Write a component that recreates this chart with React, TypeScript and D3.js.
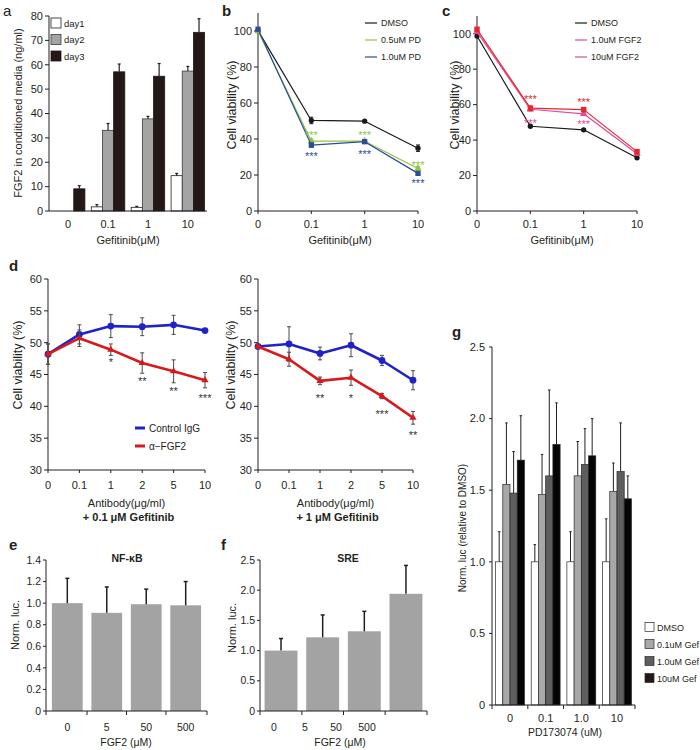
import React from 'react';
import * as d3 from 'd3';

const FONT = '"Liberation Sans", Arial, Helvetica, sans-serif';
const INK = '#231f20';

/* ---------------- panel a data ---------------- */
const aCategories = ['0', '0.1', '1', '10'];
const aDays = ['day1', 'day2', 'day3'];
const aDay1 = [0, 1.7, 1.5, 14.5];
const aDay1Err = [0, 0.9, 0.4, 0.9];
const aDay2 = [0, 33.1, 37.8, 57.4];
const aDay2Err = [0, 2.8, 1.0, 1.9];
const aDay3 = [9.1, 57.1, 55.3, 73.3];
const aDay3Err = [1.3, 3.2, 5.2, 5.6];
const aYTicks = [0, 10, 20, 30, 40, 50, 60, 70, 80];

/* ---------------- panels b, c data ---------------- */
const gefCategories = ['0', '0.1', '1', '10'];
const viabilityTicks = [0, 20, 40, 60, 80, 100];

const bNames = ['DMSO', '0.5uM PD', '1.0uM PD'];
const bDMSO = [100.2, 50.3, 49.9, 34.9];
const bDMSOErr = [0.5, 1.8, 0.6, 1.8];
const bPD05 = [100.0, 38.8, 38.8, 23.6];
const bPD05Err = [0.5, 1.2, 0.8, 1.0];
const bPD10 = [101.0, 36.6, 38.5, 20.9];
const bPD10Err = [0.8, 1.2, 0.8, 0.8];
const bStarsPD05: [string, number][] = [['0.1', 44.0], ['1', 44.0], ['10', 27.4]];
const bStarsPD10: [string, number][] = [['0.1', 32.4], ['1', 33.5], ['10', 17.2]];

const cNames = ['DMSO', '1.0uM FGF2', '10uM FGF2'];
const cDMSO = [98.7, 47.8, 45.8, 30.0];
const cDMSOErr = [0.5, 0.6, 0.6, 0.8];
const cFGF1 = [101.0, 57.4, 54.8, 32.3];
const cFGF1Err = [0.8, 1.0, 1.0, 1.0];
const cFGF10 = [102.5, 58.0, 57.2, 33.5];
const cFGF10Err = [1.0, 1.2, 1.0, 1.2];
const cStarsFGF10: [string, number][] = [['0.1', 64.9], ['1', 63.2]];
const cStarsFGF1: [string, number][] = [['0.1', 51.3], ['1', 50.4]];

/* ---------------- panel d data ---------------- */
const dCategories = ['0', '0.1', '1', '2', '5', '10'];
const dYTicks = [30, 35, 40, 45, 50, 55, 60];
const dNames = ['Control IgG', 'α−FGF2'];
const dLeftIgG = [48.2, 51.3, 52.6, 52.5, 52.8, 51.9];
const dLeftIgGErr = [1.6, 1.5, 1.8, 1.4, 1.5, 0.3];
const dLeftAb = [48.2, 50.7, 48.9, 46.8, 45.5, 44.1];
const dLeftAbErr = [1.6, 1.3, 0.9, 1.6, 1.8, 1.2];
const dLeftStars: [string, string, number][] = [['1', '*', 47.4], ['2', '**', 44.4], ['5', '**', 42.9], ['10', '***', 41.8]];
const dRightIgG = [49.4, 49.8, 48.3, 49.6, 47.2, 44.1];
const dRightIgGErr = [0.3, 2.7, 1.0, 1.8, 0.8, 1.5];
const dRightAb = [49.4, 47.4, 44.0, 44.5, 41.6, 38.2];
const dRightAbErr = [0.3, 1.1, 0.6, 1.2, 0.4, 1.0];
const dRightStars: [string, string, number][] = [['1', '**', 41.8], ['2', '*', 41.8], ['5', '***', 39.3], ['10', '**', 35.9]];

/* ---------------- panels e, f data ---------------- */
const fgfCategories = ['0', '5', '50', '500'];
const eValues = [1.0, 0.91, 0.99, 0.98];
const eErr = [0.23, 0.24, 0.14, 0.22];
const eYTicks = [0, 0.2, 0.4, 0.6, 0.8, 1.0, 1.2, 1.4];
const fValues = [1.0, 1.22, 1.32, 1.94];
const fErr = [0.2, 0.37, 0.33, 0.47];
const fYTicks = [0, 0.5, 1.0, 1.5, 2.0, 2.5];

/* ---------------- panel g data ---------------- */
const gCategories = ['0', '0.1', '1.0', '10'];
const gNames = ['DMSO', '0.1uM Gef', '1.0uM Gef', '10uM Gef'];
const gDMSO = [1.0, 1.0, 1.0, 1.0];
const gDMSOErr = [0.21, 0.12, 0.21, 0.3];
const gGef01 = [1.54, 1.47, 1.6, 1.49];
const gGef01Err = [0.43, 0.28, 0.24, 0.2];
const gGef1 = [1.48, 1.6, 1.68, 1.63];
const gGef1Err = [0.29, 0.6, 0.25, 0.34];
const gGef10 = [1.71, 1.82, 1.74, 1.44];
const gGef10Err = [0.31, 0.29, 0.26, 0.16];
const gYTicks = [0, 0.5, 1.0, 1.5, 2.0, 2.5];

/* ---------------- helpers ---------------- */
const fmt1 = (t: number) => (t === 0 ? '0' : t.toFixed(1));
const symCircle = (s: number) => d3.symbol().type(d3.symbolCircle).size(s)() as string;
const symTriangle = (s: number) => d3.symbol().type(d3.symbolTriangle).size(s)() as string;
const symSquare = (s: number) => d3.symbol().type(d3.symbolSquare).size(s)() as string;

function YAxis({ scale, ticks, x, top, fmt, tick = 4, gap = 2, fs = 11 }: any) {
  const y0 = scale.range()[0];
  return (
    <g>
      <line x1={x} x2={x} y1={y0} y2={top} stroke={INK} strokeWidth={1} />
      {ticks.map((t: number) => (
        <g key={t}>
          <line x1={x - tick} x2={x} y1={scale(t)} y2={scale(t)} stroke={INK} />
          <text x={x - tick - gap} y={scale(t) + fs * 0.35} textAnchor="end" fontSize={fs} fill={INK}>
            {fmt ? fmt(t) : String(t)}
          </text>
        </g>
      ))}
    </g>
  );
}

function XAxisPoint({ scale, y, labelY, fs = 11, tick = 3 }: any) {
  const [x0, x1] = scale.range();
  return (
    <g>
      <line x1={x0} x2={x1} y1={y} y2={y} stroke={INK} />
      {scale.domain().map((c: string) => (
        <g key={c}>
          <line x1={scale(c)} x2={scale(c)} y1={y} y2={y + tick} stroke={INK} />
          <text x={scale(c)} y={labelY} textAnchor="middle" fontSize={fs} fill={INK}>{c}</text>
        </g>
      ))}
    </g>
  );
}

function ErrorBar({ x, y0, y1, cap = 4, color = INK, w = 1, lower = true }: any) {
  return (
    <g stroke={color} strokeWidth={w}>
      <line x1={x} x2={x} y1={y0} y2={y1} />
      <line x1={x - cap / 2} x2={x + cap / 2} y1={y1} y2={y1} />
      {lower ? <line x1={x - cap / 2} x2={x + cap / 2} y1={y0} y2={y0} /> : null}
    </g>
  );
}

function Series({ x, y, cats, values, errs, color, marker, msize = 30, width = 1.2, errColor, cap = 4 }: any) {
  const line = d3.line<number>().x((_, i) => x(cats[i])).y((v) => y(v));
  return (
    <g>
      {values.map((v: number, i: number) =>
        errs && errs[i] > 0 ? (
          <ErrorBar key={'e' + i} x={x(cats[i])} y0={y(v - errs[i])} y1={y(v + errs[i])} color={errColor || color} cap={cap} />
        ) : null
      )}
      <path d={line(values) as string} fill="none" stroke={color} strokeWidth={width} strokeLinejoin="round" />
      {values.map((v: number, i: number) => (
        <path key={i} d={marker(msize)} transform={`translate(${x(cats[i])},${y(v)})`} fill={color} />
      ))}
    </g>
  );
}

function Stars({ x, y, items, color, fs = 11 }: any) {
  return (
    <g>
      {items.map((it: any, i: number) => {
        const [cat, label, v] = it.length === 3 ? it : [it[0], '***', it[1]];
        return (
          <text key={i} x={x(cat)} y={y(v) + fs * 0.62} textAnchor="middle" fontSize={fs} fill={color}>
            {label}
          </text>
        );
      })}
    </g>
  );
}

function LineLegend({ x, y0, dy, names, colors, len = 12, fs = 9, width = 1.2 }: any) {
  return (
    <g>
      {names.map((n: string, i: number) => (
        <g key={n}>
          <line x1={x} x2={x + len} y1={y0 + i * dy} y2={y0 + i * dy} stroke={colors[i]} strokeWidth={width} />
          <text x={x + len + 4} y={y0 + i * dy + fs * 0.35} fontSize={fs} fill={INK}>{n}</text>
        </g>
      ))}
    </g>
  );
}

function VLabel({ x, y, text, fs = 11 }: any) {
  return (
    <text transform={`translate(${x},${y}) rotate(-90)`} textAnchor="middle" fontSize={fs} fill={INK} dy="0.35em">
      {text}
    </text>
  );
}

function Letter({ x, y, t, bold = true }: any) {
  return (
    <text x={x} y={y} fontSize={15} fontWeight={bold ? 'bold' : 'normal'} fill={INK}>
      {t}
    </text>
  );
}

/* ---------------- panels ---------------- */
function PanelA() {
  const x = d3.scaleBand().domain(aCategories).range([49, 207]).paddingInner(0.16).paddingOuter(0.06);
  const xi = d3.scaleBand().domain(aDays).range([0, x.bandwidth()]);
  const y = d3.scaleLinear().domain([0, 80]).range([211, 16]);
  const vals = [aDay1, aDay2, aDay3];
  const errs = [aDay1Err, aDay2Err, aDay3Err];
  const fills = ['#ffffff', '#a4a4a4', '#231815'];
  const strokes = [INK, '#3a3a3a', '#231815'];
  return (
    <g>
      <Letter x={3} y={16} t="a" bold={false} />
      {aDays.map((d, k) =>
        aCategories.map((c, i) => {
          const v = vals[k][i];
          if (v <= 0) return null;
          const bx = (x(c) as number) + (xi(d) as number);
          const cx = bx + xi.bandwidth() / 2;
          return (
            <g key={d + c}>
              <rect x={bx} y={y(v)} width={xi.bandwidth()} height={y(0) - y(v)} fill={fills[k]} stroke={strokes[k]} strokeWidth={0.8} />
              {errs[k][i] > 0 ? <ErrorBar x={cx} y0={y(v)} y1={y(v + errs[k][i])} cap={3} w={1.2} lower={false} /> : null}
            </g>
          );
        })
      )}
      <YAxis scale={y} ticks={aYTicks} x={49} top={y(80)} tick={4} gap={2} fs={11} />
      <line x1={49} x2={207} y1={y(0)} y2={y(0)} stroke={INK} strokeWidth={1.2} />
      {aCategories.map((c) => (
        <text key={c} x={(x(c) as number) + x.bandwidth() / 2} y={228} textAnchor="middle" fontSize={11} fill={INK}>{c}</text>
      ))}
      <text x={128} y={244} textAnchor="middle" fontSize={11} fill={INK}>Gefitinib(μM)</text>
      <VLabel x={18} y={113} text="FGF2 in conditioned media (ng/ml)" fs={11} />
      {aDays.map((d, k) => (
        <g key={d}>
          <rect x={51} y={18 + k * 16.5} width={10} height={10} fill={fills[k]} stroke={strokes[k]} strokeWidth={0.8} />
          <text x={64} y={18 + k * 16.5 + 8.5} fontSize={9.5} fill={INK}>{d}</text>
        </g>
      ))}
    </g>
  );
}

function PanelB() {
  const x = d3.scalePoint().domain(gefCategories).range([258, 418]);
  const y = d3.scaleLinear().domain([0, 110]).range([211, 13]);
  const colors = ['#1a1a1a', '#8cc63f', '#2b4c9b'];
  return (
    <g>
      <Letter x={222} y={16} t="b" />
      <YAxis scale={y} ticks={viabilityTicks} x={258} top={y(110)} />
      <XAxisPoint scale={x} y={y(0)} labelY={228} />
      <Series x={x} y={y} cats={gefCategories} values={bDMSO} errs={bDMSOErr} color={colors[0]} marker={symCircle} msize={22} />
      <Series x={x} y={y} cats={gefCategories} values={bPD05} errs={bPD05Err} color={colors[1]} marker={symTriangle} msize={24} />
      <Series x={x} y={y} cats={gefCategories} values={bPD10} errs={bPD10Err} color={colors[2]} marker={symSquare} msize={28} />
      <Stars x={x} y={y} items={bStarsPD05} color={colors[1]} />
      <Stars x={x} y={y} items={bStarsPD10} color={colors[2]} />
      <LineLegend x={365} y0={23} dy={17} names={bNames} colors={colors} />
      <VLabel x={232} y={105} text="Cell viability (%)" fs={12.5} />
      <text x={340} y={244} textAnchor="middle" fontSize={11} fill={INK}>Gefitinib(μM)</text>
    </g>
  );
}

function PanelC() {
  const x = d3.scalePoint().domain(gefCategories).range([477, 637]);
  const y = d3.scaleLinear().domain([0, 110]).range([211, 16]);
  const colors = ['#1a1a1a', '#e5489b', '#e4282f'];
  const legendColors = ['#1a1a1a', '#e5489b', '#c45a78'];
  return (
    <g>
      <Letter x={442} y={16} t="c" />
      <YAxis scale={y} ticks={viabilityTicks} x={477} top={y(110)} />
      <XAxisPoint scale={x} y={y(0)} labelY={228} />
      <Series x={x} y={y} cats={gefCategories} values={cDMSO} errs={cDMSOErr} color={colors[0]} marker={symCircle} msize={22} />
      <Series x={x} y={y} cats={gefCategories} values={cFGF1} errs={cFGF1Err} color={colors[1]} marker={symTriangle} msize={24} />
      <Series x={x} y={y} cats={gefCategories} values={cFGF10} errs={cFGF10Err} color={colors[2]} marker={symSquare} msize={30} />
      <Stars x={x} y={y} items={cStarsFGF10} color={colors[2]} />
      <Stars x={x} y={y} items={cStarsFGF1} color={colors[1]} />
      <LineLegend x={575} y0={23} dy={17} names={cNames} colors={legendColors} />
      <VLabel x={455} y={105} text="Cell viability (%)" fs={12.5} />
      <text x={562} y={244} textAnchor="middle" fontSize={11} fill={INK}>Gefitinib(μM)</text>
    </g>
  );
}

function PanelDHalf({ x0, x1, igg, iggErr, ab, abErr, stars, labelX, sub, legend }: any) {
  const x = d3.scalePoint().domain(dCategories).range([x0, x1]);
  const y = d3.scaleLinear().domain([30, 60]).range([470, 279]);
  const blue = '#1e22c8';
  const red = '#d7191c';
  const cx = (x0 + x1) / 2;
  return (
    <g>
      <YAxis scale={y} ticks={dYTicks} x={x0} top={y(60)} tick={4} gap={2} fs={11} />
      <XAxisPoint scale={x} y={y(30)} labelY={489} />
      <Series x={x} y={y} cats={dCategories} values={igg} errs={iggErr} color={blue} errColor="#4a4a4a" marker={symCircle} msize={36} width={2.6} cap={4} />
      <Series x={x} y={y} cats={dCategories} values={ab} errs={abErr} color={red} errColor="#4a4a4a" marker={symTriangle} msize={22} width={2.6} cap={4} />
      <Stars x={x} y={y} items={stars} color="#333" fs={11} />
      <VLabel x={labelX} y={365} text="Cell viability (%)" fs={12.5} />
      <text x={cx} y={507} textAnchor="middle" fontSize={11} fill={INK}>Antibody(μg/ml)</text>
      <text x={cx + 2} y={521} textAnchor="middle" fontSize={11} fontWeight="bold" fill={INK}>{sub}</text>
      {legend ? <LineLegend x={135} y0={428} dy={18} names={dNames} colors={[blue, red]} len={10} fs={10} width={3} /> : null}
    </g>
  );
}

function PanelE() {
  const x = d3.scaleBand().domain(fgfCategories).range([46, 207]).paddingInner(0.22).paddingOuter(0.15);
  const y = d3.scaleLinear().domain([0, 1.4]).range([711, 560]);
  const half = (x.step() - x.bandwidth()) / 2;
  const tickXs = [46, ...fgfCategories.slice(1).map((c) => (x(c) as number) - half), 207];
  return (
    <g>
      <Letter x={9} y={550} t="e" />
      {fgfCategories.map((c, i) => {
        const bx = x(c) as number;
        return (
          <g key={c}>
            <rect x={bx} y={y(eValues[i])} width={x.bandwidth()} height={y(0) - y(eValues[i])} fill="#a3a3a3" />
            <ErrorBar x={bx + x.bandwidth() / 2} y0={y(eValues[i])} y1={y(eValues[i] + eErr[i])} cap={4} w={1.5} lower={false} />
          </g>
        );
      })}
      <YAxis scale={y} ticks={eYTicks} x={46} top={y(1.4)} fmt={fmt1} tick={3} gap={2} fs={10.5} />
      <line x1={46} x2={207} y1={711} y2={711} stroke={INK} />
      {tickXs.map((t, i) => <line key={i} x1={t} x2={t} y1={711} y2={715} stroke={INK} />)}
      {fgfCategories.map((c) => (
        <text key={c} x={(x(c) as number) + x.bandwidth() / 2} y={731} textAnchor="middle" fontSize={10.5} fill={INK}>{c}</text>
      ))}
      <text x={127} y={562} textAnchor="middle" fontSize={10.5} fontWeight="bold" fill={INK}>NF-κB</text>
      <text x={126} y={746} textAnchor="middle" fontSize={10.5} fill={INK}>FGF2 (μM)</text>
      <VLabel x={15} y={625} text="Norm. luc." fs={11} />
    </g>
  );
}

function PanelF() {
  const x = d3.scaleBand().domain(fgfCategories).range([260, 427]).paddingInner(0.21).paddingOuter(0.11);
  const xl = d3.scalePoint().domain(fgfCategories).range([274, 367]);
  const y = d3.scaleLinear().domain([0, 2.5]).range([711, 560]);
  const half = (x.step() - x.bandwidth()) / 2;
  const tickXs = [260, ...fgfCategories.slice(1).map((c) => (x(c) as number) - half), 427];
  return (
    <g>
      <Letter x={221} y={550} t="f" />
      {fgfCategories.map((c, i) => {
        const bx = x(c) as number;
        return (
          <g key={c}>
            <rect x={bx} y={y(fValues[i])} width={x.bandwidth()} height={y(0) - y(fValues[i])} fill="#a3a3a3" />
            <ErrorBar x={bx + x.bandwidth() / 2} y0={y(fValues[i])} y1={y(fValues[i] + fErr[i])} cap={4} w={1.5} lower={false} />
          </g>
        );
      })}
      <YAxis scale={y} ticks={fYTicks} x={260} top={y(2.5)} fmt={fmt1} tick={3} gap={2} fs={10.5} />
      <line x1={260} x2={427} y1={711} y2={711} stroke={INK} />
      {tickXs.map((t, i) => <line key={i} x1={t} x2={t} y1={711} y2={715} stroke={INK} />)}
      {fgfCategories.map((c) => (
        <text key={c} x={xl(c)} y={731} textAnchor="middle" fontSize={10.5} fill={INK}>{c}</text>
      ))}
      <text x={348} y={562} textAnchor="middle" fontSize={10.5} fontWeight="bold" fill={INK}>SRE</text>
      <text x={340} y={746} textAnchor="middle" fontSize={10.5} fill={INK}>FGF2 (μM)</text>
      <VLabel x={232} y={628} text="Norm. luc." fs={11} />
    </g>
  );
}

function PanelG() {
  const x = d3.scaleBand().domain(gCategories).range([492, 635]).paddingInner(0.19).paddingOuter(0.1);
  const xi = d3.scaleBand().domain(gNames).range([0, x.bandwidth()]);
  const y = d3.scaleLinear().domain([0, 2.5]).range([705, 347]);
  const vals = [gDMSO, gGef01, gGef1, gGef10];
  const errs = [gDMSOErr, gGef01Err, gGef1Err, gGef10Err];
  const fills = ['#ffffff', '#a8a8a8', '#5e5e5e', '#050505'];
  const legendFills = ['#ffffff', '#a8a8a8', '#5e5e5e', '#231815'];
  const half = (x.step() - x.bandwidth()) / 2;
  const tickXs = [492, ...gCategories.slice(1).map((c) => (x(c) as number) - half), 635];
  return (
    <g>
      <Letter x={452} y={337} t="g" />
      {gNames.map((n, k) =>
        gCategories.map((c, i) => {
          const v = vals[k][i];
          const bx = (x(c) as number) + (xi(n) as number);
          return (
            <g key={n + c}>
              <ErrorBar x={bx + xi.bandwidth() / 2} y0={y(v)} y1={y(v + errs[k][i])} cap={2.5} w={1} lower={false} />
              <rect x={bx} y={y(v)} width={xi.bandwidth()} height={y(0) - y(v)} fill={fills[k]} stroke="#2a2a2a" strokeWidth={0.7} />
            </g>
          );
        })
      )}
      <YAxis scale={y} ticks={gYTicks} x={492} top={y(2.5)} fmt={fmt1} tick={3} gap={4} fs={11} />
      <line x1={492} x2={635} y1={705} y2={705} stroke={INK} />
      {tickXs.map((t, i) => <line key={i} x1={t} x2={t} y1={705} y2={709} stroke={INK} />)}
      {gCategories.map((c) => (
        <text key={c} x={(x(c) as number) + x.bandwidth() / 2} y={722} textAnchor="middle" fontSize={11} fill={INK}>{c}</text>
      ))}
      <text x={565} y={736} textAnchor="middle" fontSize={10.5} fill={INK}>PD173074 (uM)</text>
      <VLabel x={462} y={528} text="Norm. luc (relative to DMSO)" fs={10} />
      {gNames.map((n, k) => (
        <g key={n}>
          <rect x={645} y={622.5 + k * 17} width={9} height={9} fill={legendFills[k]} stroke="#2a2a2a" strokeWidth={0.7} />
          <text x={657} y={630.5 + k * 17} fontSize={9} fill={INK}>{n}</text>
        </g>
      ))}
    </g>
  );
}

export default function App() {
  return (
    <svg
      width={700}
      height={750}
      viewBox="0 0 700 750"
      style={{ position: 'absolute', left: 0, top: 0, background: '#fff', fontFamily: FONT }}
    >
      <rect x={0} y={0} width={700} height={750} fill="#fff" />
      <PanelA />
      <PanelB />
      <PanelC />
      <Letter x={9} y={271} t="d" />
      <PanelDHalf x0={48} x1={205} igg={dLeftIgG} iggErr={dLeftIgGErr} ab={dLeftAb} abErr={dLeftAbErr} stars={dLeftStars} labelX={18} sub="+ 0.1 μM Gefitinib" legend />
      <PanelDHalf x0={258} x1={413} igg={dRightIgG} iggErr={dRightIgGErr} ab={dRightAb} abErr={dRightAbErr} stars={dRightStars} labelX={231} sub="+ 1 μM Gefitinib" legend={false} />
      <PanelE />
      <PanelF />
      <PanelG />
    </svg>
  );
}
